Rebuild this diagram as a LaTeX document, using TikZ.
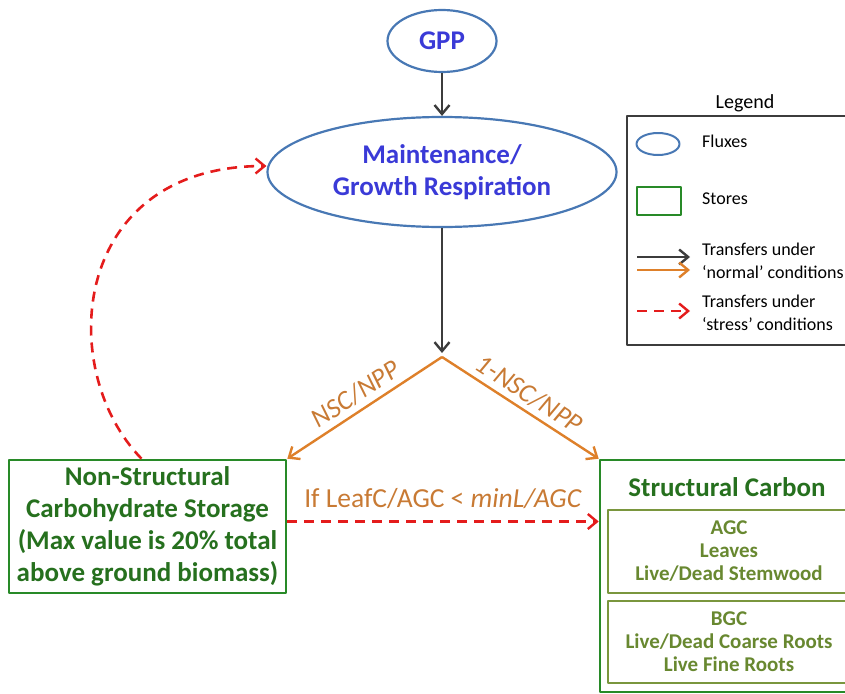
\documentclass[tikz,border=0pt]{standalone}
\usepackage{fontspec}
\setmainfont{Carlito}
\usetikzlibrary{arrows.meta,shapes.geometric}
\definecolor{fluxblue}{RGB}{72,120,180}
\definecolor{fluxtext}{RGB}{58,58,215}
\definecolor{storegreen}{RGB}{40,138,40}
\definecolor{storetext}{RGB}{38,112,30}
\definecolor{subgreen}{RGB}{122,150,62}
\definecolor{subtext}{RGB}{104,136,48}
\definecolor{flowgray}{RGB}{60,60,60}
\definecolor{floworange}{RGB}{222,128,42}
\definecolor{labelorange}{RGB}{200,122,52}
\definecolor{stressred}{RGB}{228,28,28}
\tikzset{
  bigfont/.style={font=\fontsize{27}{32}\selectfont\bfseries},
  flux/.style={ellipse,draw=fluxblue,line width=2.2pt,text=fluxtext,bigfont,align=center,inner sep=0pt},
  store/.style={rectangle,draw=storegreen,line width=2.6pt,text=storetext,bigfont,align=center,inner sep=0pt},
  substore/.style={rectangle,draw=subgreen,line width=2.2pt,text=subtext,
    font=\fontsize{21}{23}\selectfont\bfseries,align=center,inner sep=0pt},
  flowtip/.style={-{Straight Barb[length=9pt,width=15pt,line width=2.4pt]}},
  normalflow/.style={flowtip,draw=flowgray,line width=2.4pt},
  orangeflow/.style={flowtip,draw=floworange,line width=2.4pt},
  stressflow/.style={flowtip,draw=stressred,line width=2.6pt,dash pattern=on 10pt off 7pt},
  flowlabel/.style={text=labelorange,font=\fontsize{27.5}{32}\selectfont},
  legendtext/.style={font=\fontsize{18}{23}\selectfont,text=black,align=left,anchor=west,inner sep=0pt}
}
\begin{document}
\begin{tikzpicture}[x=1pt,y=-1pt,line join=round]
  \useasboundingbox (0,0) rectangle (845,693);
  \clip (0,0) rectangle (845,693);
  \node[flux,minimum width=109pt,minimum height=62pt] (gpp) at (442,41) {GPP};
  \node[flux,minimum width=349pt,minimum height=110pt] (resp) at (442,172)
    {Maintenance/\\Growth Respiration};
  \coordinate (split) at (442,357);
  \node[store,minimum width=277pt,minimum height=133pt] (nsc) at (147.5,526.5)
    {Non-Structural\\Carbohydrate Storage\\(Max value is 20\% total\\above ground biomass)};
  \node[store,minimum width=258pt,minimum height=232pt] (sc) at (729,576) {};
  \node[text=storetext,bigfont] (sctitle) at (727,487) {Structural Carbon};
  \node[substore,minimum width=242pt,minimum height=83pt] (agc) at (729,551.5)
    {AGC\\Leaves\\Live/Dead Stemwood};
  \node[substore,minimum width=242pt,minimum height=82pt] (bgc) at (729,642)
    {BGC\\Live/Dead Coarse Roots\\Live Fine Roots};
  \draw[normalflow] (gpp) -- (resp);
  \draw[normalflow,shorten >=4pt] (resp) -- (split);
  \draw[orangeflow] (split) -- (nsc.north east)
    node[midway,sloped,above=2pt,flowlabel,font=\fontsize{27}{32}\selectfont\itshape] {NSC/NPP};
  \draw[orangeflow] (split) -- (sc.north west)
    node[midway,sloped,above=2pt,flowlabel,font=\fontsize{27}{32}\selectfont\itshape] {1-NSC/NPP};
  \draw[stressflow] ([yshift=5pt]nsc.east) -- ([yshift=5pt]nsc.east -| sc.west)
    node[midway,above=8pt,flowlabel] {If LeafC/AGC < \textit{minL/AGC}};
  \draw[stressflow] ([xshift=-6pt]nsc.north) .. controls (55,370) and (70,166) .. ([yshift=6pt]resp.west);
  % legend
  \node[font=\fontsize{20}{24}\selectfont] (legtitle) at (745,103) {Legend};
  \node[draw=flowgray,line width=1.3pt,minimum width=253pt,minimum height=229pt] (legbox) at (753.5,230.5) {};
  \node[ellipse,draw=fluxblue,line width=2pt,minimum width=43pt,minimum height=22pt] (legflux) at (658,144) {};
  \node[legendtext] (fluxtxt) at (702,141) {Fluxes};
  \node[draw=storegreen,line width=2pt,minimum width=44pt,minimum height=28pt] (legstore) at (659,201) {};
  \node[legendtext] (storetxt) at (702,199) {Stores};
  \coordinate (ga) at (637,257); \coordinate (gb) at (690,257);
  \coordinate (oa) at (637,270); \coordinate (ob) at (690,270);
  \coordinate (ra) at (637,311); \coordinate (rb) at (690,311);
  \draw[normalflow] (ga) -- (gb);
  \draw[orangeflow] (oa) -- (ob);
  \draw[stressflow] (ra) -- (rb);
  \node[legendtext] (normaltxt) at (702,261) {Transfers under\\`normal' conditions};
  \node[legendtext] (stresstxt) at (702,313) {Transfers under\\`stress' conditions};
\end{tikzpicture}
\end{document}
